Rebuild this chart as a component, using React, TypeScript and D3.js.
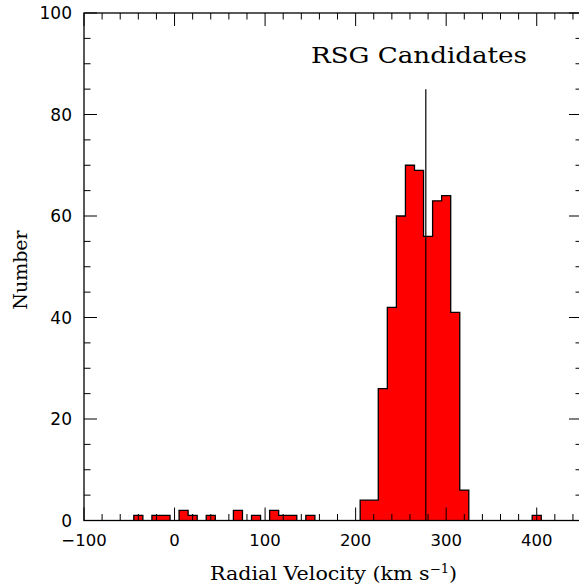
import React from 'react';
import * as d3 from 'd3';

// histogram bins (lower edge, km/s) and counts, bin width 10
const binLow = [-45, -25, -15, 5, 15, 35, 65, 85, 105, 115, 125, 145, 205, 215, 225, 235, 245, 255, 265, 275, 285, 295, 305, 315, 395];
const counts = [1, 1, 1, 2, 1, 1, 2, 1, 2, 1, 1, 1, 4, 4, 26, 42, 60, 70, 69, 56, 63, 64, 41, 6, 1];
const binWidth = 10;

const xMajor = [-100, 0, 100, 200, 300, 400];
const yMajor = [0, 20, 40, 60, 80, 100];
const meanVelocity = 277.5;
const meanLineTop = 85;

const W = 579;
const H = 586;
const left = 84;
const right = 582;
const top = 13;
const bottom = 520.5;

const App: React.FC = () => {
  const x = d3.scaleLinear().domain([-100, 450]).range([left, right]);
  const y = d3.scaleLinear().domain([0, 100]).range([bottom, top]);

  // group contiguous bins into runs and build step outline
  const runs: { lo: number; c: number }[][] = [];
  binLow.forEach((lo, i) => {
    const last = runs[runs.length - 1];
    if (last && last[last.length - 1].lo + binWidth === lo) last.push({ lo, c: counts[i] });
    else runs.push([{ lo, c: counts[i] }]);
  });
  const stepPath = runs
    .map((run) => {
      let d = `M${x(run[0].lo)},${y(0)}`;
      run.forEach((b) => {
        d += `V${y(b.c)}H${x(b.lo + binWidth)}`;
      });
      return d + `V${y(0)}`;
    })
    .join('');

  const xMinor = d3.range(-100, 451, 20).filter((v) => v % 100 !== 0);
  const yMinor = d3.range(0, 101, 5).filter((v) => v % 20 !== 0);
  const major = 13;
  const minor = 6.5;
  const fmt = (v: number) => (v < 0 ? '\u2212' + Math.abs(v) : String(v));

  return (
    <svg
      width={W}
      height={H}
      style={{ position: 'absolute', left: 0, top: 0, background: '#fff' }}
    >
      <path d={stepPath} fill="#ff0000" stroke="#000" strokeWidth={1.3} />
      <line x1={x(meanVelocity)} x2={x(meanVelocity)} y1={y(0)} y2={y(meanLineTop)} stroke="#000" strokeWidth={1.2} />

      <g stroke="#000" strokeWidth={1}>
        {xMajor.map((v) => (
          <g key={'xm' + v}>
            <line x1={x(v)} x2={x(v)} y1={bottom} y2={bottom - major} />
            <line x1={x(v)} x2={x(v)} y1={top} y2={top + major} />
          </g>
        ))}
        {xMinor.map((v) => (
          <g key={'xn' + v}>
            <line x1={x(v)} x2={x(v)} y1={bottom} y2={bottom - minor} />
            <line x1={x(v)} x2={x(v)} y1={top} y2={top + minor} />
          </g>
        ))}
        {yMajor.map((v) => (
          <g key={'ym' + v}>
            <line x1={left} x2={left + major} y1={y(v)} y2={y(v)} />
            <line x1={right} x2={right - major} y1={y(v)} y2={y(v)} />
          </g>
        ))}
        {yMinor.map((v) => (
          <g key={'yn' + v}>
            <line x1={left} x2={left + minor} y1={y(v)} y2={y(v)} />
            <line x1={right} x2={right - minor} y1={y(v)} y2={y(v)} />
          </g>
        ))}
        <rect x={left} y={top} width={right - left} height={bottom - top} fill="none" strokeWidth={1.3} />
      </g>

      <g fontFamily="DejaVu Sans" fill="#000">
        {xMajor.map((v) => (
          <text key={'xl' + v} x={x(v)} y={546} textAnchor="middle" fontSize={16.5}>
            {fmt(v)}
          </text>
        ))}
        {yMajor.map((v) => (
          <text key={'yl' + v} x={72} y={y(v) + 6} textAnchor="end" fontSize={17}>
            {v}
          </text>
        ))}
      </g>

      <g fontFamily="DejaVu Serif" fill="#000">
        <text x={311} y={63} fontSize={22} textLength={216} lengthAdjust="spacingAndGlyphs">
          RSG Candidates
        </text>
        <text x={210} y={580} fontSize={19} textLength={247} lengthAdjust="spacingAndGlyphs">
          Radial Velocity (km s<tspan fontSize={12} dy={-7}>−1</tspan>
          <tspan dy={7}>)</tspan>
        </text>
        <text transform="translate(27,270) rotate(-90)" textAnchor="middle" fontSize={19}>
          Number
        </text>
      </g>
    </svg>
  );
};

export default App;
